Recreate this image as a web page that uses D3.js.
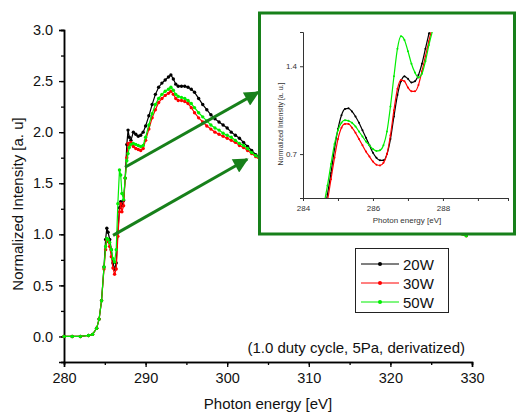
<!DOCTYPE html>
<html><head><meta charset="utf-8">
<script src="https://cdn.jsdelivr.net/npm/d3@7"></script>
<style>
html,body{margin:0;padding:0;background:#fff;}
svg{display:block;font-family:Arial,"Liberation Sans",sans-serif;}
</style></head>
<body><svg id="c" width="516" height="414"></svg>
<script>
// ---------- main chart data ----------
const energies = [280,281,282,283,283.5,284,284.3,284.6,284.9,285.1,285.25,285.4,285.6,285.8,286.0,286.2,286.4,286.6,286.8,286.95,287.1,287.3,287.5,287.7,287.85,288.0,288.2,288.5,288.8,289.1,289.4,289.7,290.0,290.4,290.8,291.2,291.6,292.0,292.4,292.8,293.1,293.4,293.7,294.0,294.4,294.8,295.2,295.6,296.0,296.5,297.0,297.5,298.0,298.5,299.0,299.5,300.0,300.5,301.0,301.5,302.0,302.5,303.0,303.5,304.0,306,308,310,313,316,319,322,325,327.5,329.3];
const w20 = [0,0,0,0.01,0.02,0.08,0.17,0.35,0.68,0.95,1.06,1.02,0.95,0.85,0.72,0.66,0.72,1.02,1.26,1.32,1.28,1.33,1.55,1.88,2.02,1.95,1.92,2.00,1.98,1.96,1.97,2.00,2.06,2.16,2.27,2.37,2.44,2.48,2.51,2.54,2.56,2.52,2.47,2.45,2.45,2.45,2.44,2.42,2.39,2.33,2.27,2.22,2.17,2.13,2.10,2.07,2.04,2.00,1.97,1.94,1.90,1.86,1.82,1.78,1.75,1.64,1.55,1.47,1.36,1.26,1.17,1.11,1.06,1.03,0.99];
const w30 = [0,0,0,0.01,0.02,0.08,0.17,0.35,0.66,0.85,0.94,0.93,0.88,0.78,0.67,0.61,0.66,0.98,1.22,1.30,1.22,1.28,1.55,1.75,1.89,1.88,1.90,1.86,1.84,1.83,1.82,1.84,1.92,2.03,2.14,2.22,2.29,2.33,2.36,2.38,2.40,2.37,2.33,2.31,2.31,2.30,2.28,2.24,2.19,2.14,2.10,2.06,2.03,2.00,1.98,1.96,1.94,1.92,1.90,1.87,1.85,1.82,1.79,1.76,1.73,1.62,1.53,1.45,1.35,1.25,1.16,1.10,1.05,1.02,0.985];
const w50 = [0,0,0,0.01,0.02,0.08,0.17,0.35,0.68,0.88,0.96,0.95,0.92,0.85,0.76,0.73,0.85,1.30,1.63,1.58,1.40,1.34,1.55,1.72,1.79,1.85,1.88,1.89,1.88,1.87,1.86,1.87,1.95,2.07,2.18,2.27,2.33,2.37,2.40,2.42,2.44,2.41,2.37,2.35,2.34,2.33,2.31,2.28,2.24,2.19,2.15,2.11,2.07,2.04,2.02,1.99,1.97,1.95,1.92,1.89,1.87,1.84,1.80,1.77,1.74,1.63,1.54,1.46,1.35,1.25,1.16,1.10,1.05,1.02,0.985];
const seriesNames = ["20W","30W","50W"];
const seriesColors = ["#000000","#ff0000","#00ee00"];
const xTicks = [280,290,300,310,320,330];
const yTicks = [0.0,0.5,1.0,1.5,2.0,2.5,3.0];
// arrows (data units): [x1,y1,x2,y2]
const arrows = [[287.48,1.657,303.8,2.39],[286.01,0.99,302.45,1.735]];

// ---------- inset data ----------
const insetEnergies = [284.6,284.7,284.8,284.9,285.0,285.1,285.2,285.3,285.4,285.5,285.6,285.7,285.8,285.9,286.0,286.1,286.2,286.3,286.4,286.5,286.6,286.7,286.8,286.9,287.0,287.1,287.2,287.3,287.4,287.5,287.6,287.7];
const in20 = [0.22,0.38,0.55,0.74,0.90,1.01,1.06,1.065,1.04,1.00,0.95,0.89,0.83,0.77,0.71,0.67,0.65,0.65,0.70,0.82,1.00,1.17,1.28,1.32,1.30,1.27,1.28,1.33,1.42,1.54,1.66,1.78];
const in30 = [0.20,0.33,0.50,0.67,0.82,0.91,0.94,0.94,0.91,0.87,0.82,0.77,0.72,0.68,0.64,0.615,0.61,0.63,0.70,0.85,1.05,1.22,1.29,1.28,1.23,1.20,1.20,1.25,1.36,1.48,1.60,1.72];
const in50 = [0.30,0.45,0.62,0.78,0.89,0.95,0.97,0.965,0.95,0.92,0.88,0.84,0.80,0.77,0.74,0.725,0.73,0.77,0.88,1.08,1.32,1.54,1.64,1.61,1.52,1.42,1.35,1.31,1.34,1.44,1.57,1.68];
const insetXTicks = [284,286,288];
const insetYTicks = [0.7,1.4];

const svg = d3.select("#c");
const green = "#17801a";

// ---------- main scales ----------
const x = d3.scaleLinear().domain([280,330]).range([64,472]);
const y = d3.scaleLinear().domain([-0.25,3.0]).range([362,30]);

// axes
const gx = svg.append("g").attr("transform","translate(0,362)");
gx.call(d3.axisBottom(x).tickValues(d3.range(280,331,5)).tickSize(3).tickFormat(""));
gx.append("g").call(d3.axisBottom(x).tickValues(xTicks).tickSize(5).tickFormat(d3.format("d")));
const gy = svg.append("g").attr("transform","translate(64,0)");
gy.call(d3.axisLeft(y).tickValues(d3.range(-0.25,3.01,0.25)).tickSize(3).tickFormat(""));
gy.append("g").call(d3.axisLeft(y).tickValues(yTicks).tickSize(5).tickFormat(d3.format(".1f")));
svg.selectAll(".domain").attr("stroke","#000").attr("stroke-width",1.5);
svg.selectAll(".tick line").attr("stroke","#000").attr("stroke-width",1.3);
gx.selectAll("text").attr("font-size","14.5px").attr("fill","#111").attr("dy","0.9em");
gy.selectAll("text").attr("font-size","14.5px").attr("fill","#111").attr("dx","-0.2em");

svg.append("text").attr("x",268).attr("y",409).attr("text-anchor","middle")
  .attr("font-size","15px").attr("fill","#111").text("Photon energy [eV]");
svg.append("text").attr("transform","translate(23,204) rotate(-90)").attr("text-anchor","middle")
  .attr("font-size","15px").attr("fill","#111").text("Normalized Intensity [a. u]");
svg.append("text").attr("x",465).attr("y",353).attr("text-anchor","end")
  .attr("font-size","15px").attr("fill","#111").text("(1.0 duty cycle, 5Pa, derivatized)");

// curves
const mainSeries = [w20,w30,w50];
const line = d3.line().x(d=>x(d[0])).y(d=>y(d[1]));
mainSeries.forEach((vals,i)=>{
  const pts = energies.map((e,j)=>[e,vals[j]]);
  svg.append("path").datum(pts).attr("d",line).attr("fill","none")
    .attr("stroke",seriesColors[i]).attr("stroke-width",1.2);
  svg.append("g").selectAll("circle").data(pts).join("circle")
    .attr("cx",d=>x(d[0])).attr("cy",d=>y(d[1])).attr("r",1.7).attr("fill",seriesColors[i]);
});

// inset box (white, covers curves)
const ib = {x0:259.5,y0:13,x1:514.5,y1:234};
svg.append("rect").attr("x",ib.x0).attr("y",ib.y0).attr("width",ib.x1-ib.x0).attr("height",ib.y1-ib.y0)
  .attr("fill","#fff").attr("stroke",green).attr("stroke-width",3);

// arrows
const defs = svg.append("defs");
defs.append("marker").attr("id","ah").attr("viewBox","0 0 10 10").attr("refX",9).attr("refY",5)
  .attr("markerWidth",5.5).attr("markerHeight",5).attr("markerUnits","strokeWidth").attr("orient","auto")
  .append("path").attr("d","M0,0L10,5L0,10z").attr("fill",green);
arrows.forEach(a=>{
  svg.append("line").attr("x1",x(a[0])).attr("y1",y(a[1])).attr("x2",x(a[2])).attr("y2",y(a[3]))
    .attr("stroke",green).attr("stroke-width",3).attr("marker-end","url(#ah)");
});

// ---------- inset ----------
const ix = d3.scaleLinear().domain([284,289.86]).range([303,508]);
const iy = d3.scaleLinear().domain([0.35,1.673]).range([198,32]);
defs.append("clipPath").attr("id","iclip").append("rect")
  .attr("x",303).attr("y",32).attr("width",205).attr("height",166);
const igx = svg.append("g").attr("transform","translate(0,198)");
igx.call(d3.axisBottom(ix).tickValues([285,287,289]).tickSize(3).tickFormat(""));
igx.append("g").call(d3.axisBottom(ix).tickValues(insetXTicks).tickSize(3).tickFormat(d3.format("d")));
const igy = svg.append("g").attr("transform","translate(303,0)");
igy.call(d3.axisLeft(iy).tickValues(insetYTicks).tickSize(3).tickFormat(d3.format(".1f")));
[igx,igy].forEach(g=>{
  g.selectAll(".domain").attr("stroke","#333").attr("stroke-width",1);
  g.selectAll(".tick line").attr("stroke","#333");
  g.selectAll("text").attr("font-size","8px").attr("fill","#333");
});
igx.selectAll("text").attr("dy","0.9em");
svg.append("text").attr("x",407).attr("y",223).attr("text-anchor","middle")
  .attr("font-size","8px").attr("fill","#333").text("Photon energy [eV]");
svg.append("text").attr("transform","translate(283,124) rotate(-90)").attr("text-anchor","middle")
  .attr("font-size","7px").attr("fill","#333").text("Normalized Intensity [a. u.]");
const insetSeries = [in20,in30,in50];
const iline = d3.line().x(d=>ix(d[0])).y(d=>iy(d[1]));
const ig = svg.append("g").attr("clip-path","url(#iclip)");
insetSeries.forEach((vals,i)=>{
  const pts = insetEnergies.map((e,j)=>[e,vals[j]]);
  ig.append("path").datum(pts).attr("d",iline.curve(d3.curveMonotoneX)).attr("fill","none")
    .attr("stroke",seriesColors[i]).attr("stroke-width",1.2);
  ig.append("g").selectAll("circle").data(pts).join("circle")
    .attr("cx",d=>ix(d[0])).attr("cy",d=>iy(d[1])).attr("r",1).attr("fill",seriesColors[i]);
});

// ---------- legend ----------
const lg = svg.append("g");
lg.append("rect").attr("x",355.5).attr("y",248.5).attr("width",93).attr("height",64)
  .attr("fill","#fff").attr("stroke","#222").attr("stroke-width",1);
seriesNames.forEach((n,i)=>{
  const yy = 264 + i*19;
  lg.append("line").attr("x1",361).attr("x2",399).attr("y1",yy).attr("y2",yy)
    .attr("stroke",seriesColors[i]).attr("stroke-width",1);
  lg.append("circle").attr("cx",380).attr("cy",yy).attr("r",2).attr("fill",seriesColors[i]);
  lg.append("text").attr("x",403).attr("y",yy+5.5).attr("font-size","15px").attr("fill","#111").text(n);
});
</script></body></html>
